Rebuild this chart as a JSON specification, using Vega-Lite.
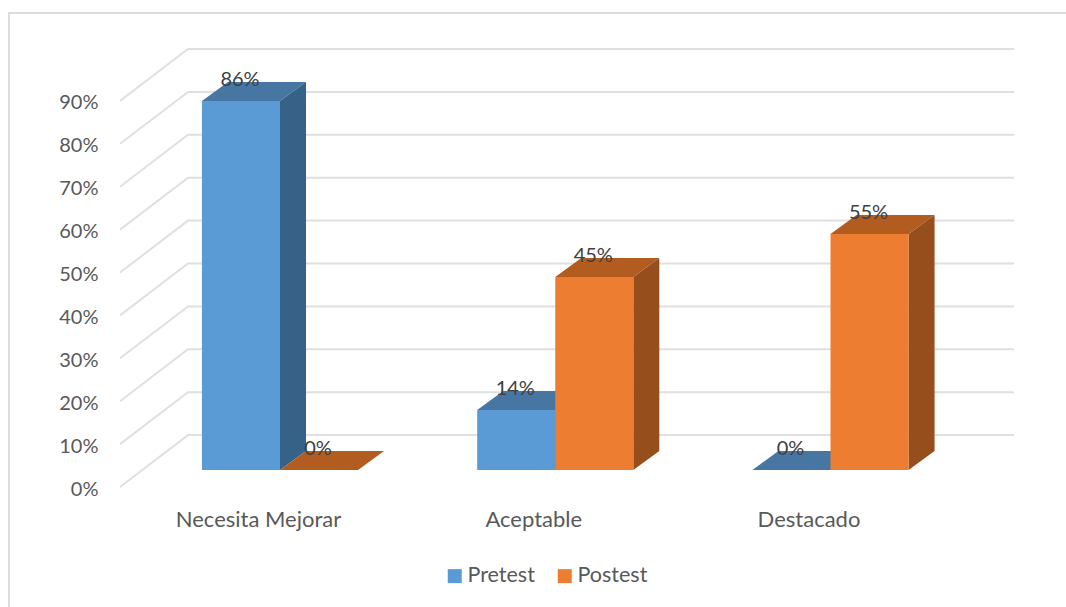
{
"$schema":"https://vega.github.io/schema/vega-lite/v6.json",
"width":1057,"height":594,"autosize":"none",
"padding":{"left":9,"top":13,"right":0,"bottom":0},
"background":"white",
"view":{"stroke":null},
"config":{"font":"Lato"},
"datasets":{
"frame":[{"i":1,"x":0.0154,"y":-27.97},{"i":2,"x":0.0154,"y":110.49},{"i":3,"x":3.8556,"y":110.49}],
"walls":[
{"level":0,"x":0.4187,"y":0},{"level":0,"x":0.6658,"y":12.1},{"level":0,"x":3.6667,"y":12.1},
{"level":10,"x":0.4187,"y":10},{"level":10,"x":0.6658,"y":22.1},{"level":10,"x":3.6667,"y":22.1},
{"level":20,"x":0.4187,"y":20},{"level":20,"x":0.6658,"y":32.1},{"level":20,"x":3.6667,"y":32.1},
{"level":30,"x":0.4187,"y":30},{"level":30,"x":0.6658,"y":42.1},{"level":30,"x":3.6667,"y":42.1},
{"level":40,"x":0.4187,"y":40},{"level":40,"x":0.6658,"y":52.1},{"level":40,"x":3.6667,"y":52.1},
{"level":50,"x":0.4187,"y":50},{"level":50,"x":0.6658,"y":62.1},{"level":50,"x":3.6667,"y":62.1},
{"level":60,"x":0.4187,"y":60},{"level":60,"x":0.6658,"y":72.1},{"level":60,"x":3.6667,"y":72.1},
{"level":70,"x":0.4187,"y":70},{"level":70,"x":0.6658,"y":82.1},{"level":70,"x":3.6667,"y":82.1},
{"level":80,"x":0.4187,"y":80},{"level":80,"x":0.6658,"y":92.1},{"level":80,"x":3.6667,"y":92.1},
{"level":90,"x":0.4187,"y":90},{"level":90,"x":0.6658,"y":102.1},{"level":90,"x":3.6667,"y":102.1}
],
"faces":[
{"category":"Necesita Mejorar","face":"Pretest superior","x":0.7164,"y":86,"y2":86},
{"category":"Necesita Mejorar","face":"Pretest superior","x":0.8109,"y":86,"y2":90.43},
{"category":"Necesita Mejorar","face":"Pretest superior","x":1,"y":86,"y2":90.43},
{"category":"Necesita Mejorar","face":"Pretest superior","x":1.0945,"y":90.43,"y2":90.43},
{"category":"Necesita Mejorar","face":"Pretest lateral","x":1,"y":86,"y2":0},
{"category":"Necesita Mejorar","face":"Pretest lateral","x":1.0945,"y":90.43,"y2":4.43},
{"category":"Necesita Mejorar","face":"Pretest","x":0.7164,"y":86,"y2":0},
{"category":"Necesita Mejorar","face":"Pretest","x":1,"y":86,"y2":0},
{"category":"Aceptable","face":"Pretest superior","x":1.7164,"y":14,"y2":14},
{"category":"Aceptable","face":"Pretest superior","x":1.8109,"y":14,"y2":18.43},
{"category":"Aceptable","face":"Pretest superior","x":2,"y":14,"y2":18.43},
{"category":"Aceptable","face":"Pretest superior","x":2.0945,"y":18.43,"y2":18.43},
{"category":"Aceptable","face":"Pretest lateral","x":2,"y":14,"y2":0},
{"category":"Aceptable","face":"Pretest lateral","x":2.0945,"y":18.43,"y2":4.43},
{"category":"Aceptable","face":"Pretest","x":1.7164,"y":14,"y2":0},
{"category":"Aceptable","face":"Pretest","x":2,"y":14,"y2":0},
{"category":"Destacado","face":"Pretest superior","x":2.7164,"y":0,"y2":0},
{"category":"Destacado","face":"Pretest superior","x":2.8109,"y":0,"y2":4.43},
{"category":"Destacado","face":"Pretest superior","x":3,"y":0,"y2":4.43},
{"category":"Destacado","face":"Pretest superior","x":3.0945,"y":4.43,"y2":4.43},
{"category":"Necesita Mejorar","face":"Postest superior","x":1,"y":0,"y2":0},
{"category":"Necesita Mejorar","face":"Postest superior","x":1.0945,"y":0,"y2":4.43},
{"category":"Necesita Mejorar","face":"Postest superior","x":1.2836,"y":0,"y2":4.43},
{"category":"Necesita Mejorar","face":"Postest superior","x":1.3781,"y":4.43,"y2":4.43},
{"category":"Aceptable","face":"Postest superior","x":2,"y":45,"y2":45},
{"category":"Aceptable","face":"Postest superior","x":2.0945,"y":45,"y2":49.43},
{"category":"Aceptable","face":"Postest superior","x":2.2836,"y":45,"y2":49.43},
{"category":"Aceptable","face":"Postest superior","x":2.3781,"y":49.43,"y2":49.43},
{"category":"Aceptable","face":"Postest lateral","x":2.2836,"y":45,"y2":0},
{"category":"Aceptable","face":"Postest lateral","x":2.3781,"y":49.43,"y2":4.43},
{"category":"Aceptable","face":"Postest","x":2,"y":45,"y2":0},
{"category":"Aceptable","face":"Postest","x":2.2836,"y":45,"y2":0},
{"category":"Destacado","face":"Postest superior","x":3,"y":55,"y2":55},
{"category":"Destacado","face":"Postest superior","x":3.0945,"y":55,"y2":59.43},
{"category":"Destacado","face":"Postest superior","x":3.2836,"y":55,"y2":59.43},
{"category":"Destacado","face":"Postest superior","x":3.3781,"y":59.43,"y2":59.43},
{"category":"Destacado","face":"Postest lateral","x":3.2836,"y":55,"y2":0},
{"category":"Destacado","face":"Postest lateral","x":3.3781,"y":59.43,"y2":4.43},
{"category":"Destacado","face":"Postest","x":3,"y":55,"y2":0},
{"category":"Destacado","face":"Postest","x":3.2836,"y":55,"y2":0}
],
"labels":[
{"category":"Necesita Mejorar","series":"Pretest","x":1,"y":86,"label":"86%"},
{"category":"Aceptable","series":"Pretest","x":2,"y":14,"label":"14%"},
{"category":"Destacado","series":"Pretest","x":3,"y":0,"label":"0%"},
{"category":"Necesita Mejorar","series":"Postest","x":1,"y":0,"label":"0%"},
{"category":"Aceptable","series":"Postest","x":2,"y":45,"label":"45%"},
{"category":"Destacado","series":"Postest","x":3,"y":55,"label":"55%"}
]
},
"encoding":{
"x":{"field":"x","type":"quantitative","title":null,
"scale":{"domain":[0.0154,3.8556],"nice":false,"zero":false},
"axis":{"values":[1,2,3],"grid":false,"domain":false,"ticks":false,"offset":-88,"labelPadding":0,"labelOffset":-22,"labelFontSize":22,"labelColor":"#595959","labelBaseline":"middle","labelExpr":"datum.value==1?'Necesita Mejorar':(datum.value==2?'Aceptable':'Destacado')"}},
"y":{"field":"y","type":"quantitative","title":null,"stack":null,
"scale":{"domain":[-27.97,110.49],"nice":false,"zero":false},
"axis":{"values":[0,10,20,30,40,50,60,70,80,90],"grid":false,"domain":false,"ticks":false,"offset":-89,"labelPadding":0,"labelOffset":2,"labelFontSize":20,"labelColor":"#595959","labelExpr":"datum.value+'%'"}}
},
"layer":[
{"data":{"name":"frame"},"mark":{"type":"line","stroke":"#dcdcdc","strokeWidth":2},"encoding":{"order":{"field":"i"}}},
{"data":{"name":"walls"},"mark":{"type":"line","stroke":"#e0e0e0","strokeWidth":2},"encoding":{"detail":{"field":"level"}}},
{"data":{"name":"faces"},"mark":{"type":"area","yOffset":-17,"y2Offset":-17,"opacity":1},
"encoding":{
"y2":{"field":"y2"},
"detail":{"field":"category"},
"fill":{"field":"face","type":"nominal",
"scale":{"domain":["Pretest","Postest","Pretest superior","Pretest lateral","Postest superior","Postest lateral"],"range":["#5B9BD5","#ED7D31","#4676A1","#376287","#B25C20","#964F1C"]},
"legend":{"values":["Pretest","Postest"],"title":null,"orient":"none","direction":"horizontal","legendX":435,"legendY":552,"symbolType":"square","symbolSize":196,"symbolStrokeWidth":0,"labelFontSize":21.5,"labelColor":"#595959","columnPadding":19,"labelOffset":2}}}},
{"data":{"name":"labels"},"transform":[{"filter":"datum.series=='Pretest'"}],"mark":{"type":"text","dx":-40,"dy":-38,"fontSize":20,"color":"#404040"},"encoding":{"text":{"field":"label","type":"nominal"}}},
{"data":{"name":"labels"},"transform":[{"filter":"datum.series=='Postest'"}],"mark":{"type":"text","dx":38,"dy":-38,"fontSize":20,"color":"#404040"},"encoding":{"text":{"field":"label","type":"nominal"}}}
]
}
